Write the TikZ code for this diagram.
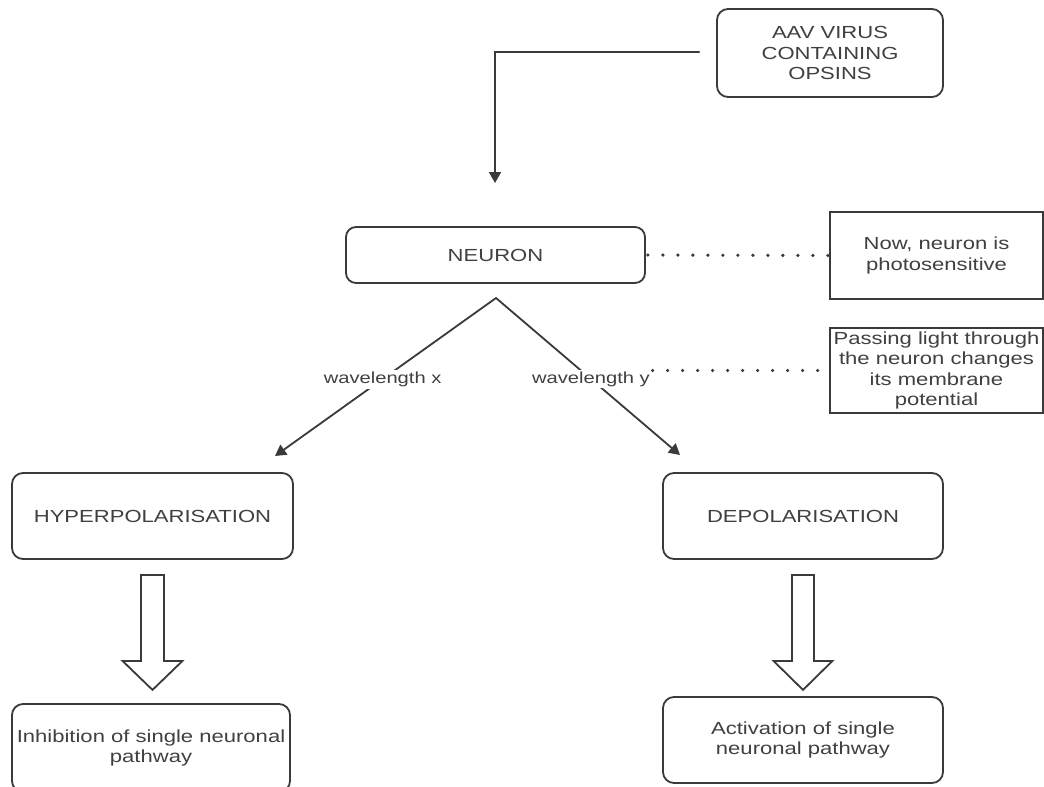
\documentclass[tikz,border=0pt]{standalone}
\usepackage{fontspec}
\setmainfont{Liberation Sans}[FakeStretch=1.26]
\usetikzlibrary{arrows.meta,calc}
\definecolor{ln}{HTML}{3A3A3A}
\definecolor{tx}{HTML}{404040}
\begin{document}
\begin{tikzpicture}[x=1pt,y=-1pt,
 box/.style={draw=ln, line width=1.8pt, rounded corners=11pt, text=tx, align=center, inner sep=0pt, font=\fontsize{17.5}{20.5}\selectfont},
 sqbox/.style={box, rounded corners=0pt},
 conn/.style={draw=ln, line width=1.8pt, line cap=round},
 arr/.style={conn, -{Triangle[width=12pt,length=11pt]}},
 dots/.style={draw=ln, line width=3.6pt, line cap=round, dash pattern=on 0pt off 15pt},
 lbl/.style={fill=white, text=tx, inner sep=2pt, font=\fontsize{16}{19}\selectfont},
 hollow/.style={draw=ln, line width=1.8pt, fill=white, line join=miter}]
\useasboundingbox (0,0) rectangle (1044,787);
\begin{scope}
\clip (0,0) rectangle (1044,787);
\fill[white] (0,0) rectangle (1044,787);
\node[box, minimum width=226pt, minimum height=88pt] (aav) at (830,53) {AAV VIRUS\\CONTAINING\\OPSINS};
\node[box, minimum width=299pt, minimum height=56pt, rounded corners=10pt] (neuron) at (495.5,255) {NEURON};
\node[sqbox, minimum width=213pt, minimum height=87pt] (now) at (936.5,255.5) {Now, neuron is\\photosensitive};
\node[sqbox, minimum width=213pt, minimum height=85pt] (passing) at (936.5,370.5) {Passing light through\\the neuron changes\\its membrane\\potential};
\node[box, minimum width=281pt, minimum height=86pt] (hyper) at (152.5,516) {HYPERPOLARISATION};
\node[box, minimum width=280pt, minimum height=86pt] (depol) at (803,516) {DEPOLARISATION};
\node[box, minimum width=278pt, minimum height=88pt] (inhib) at (151,748) {Inhibition of single neuronal\\pathway};
\node[box, minimum width=280pt, minimum height=86pt] (activ) at (803,740) {Activation of single\\neuronal pathway};

\coordinate (aavout) at ($(aav.west)+(-17,-1)$);
\coordinate (neuin) at (495,183);
\draw[arr] (aavout) -| (neuin);

\coordinate (apex) at (496,298);
\coordinate (hyin) at (275,456);
\coordinate (dein) at (680,455);
\draw[arr] (apex) -- node[lbl, pos=0.513] (wx) {wavelength x} (hyin);
\draw[arr] (apex) -- node[lbl, pos=0.516] (wy) {wavelength y} (dein);

\draw[dots] ($(neuron.east)+(2,0)$) -- (now.west);
\draw[dots] (wy.east |- passing.west) -- (passing.west);

\draw[hollow] ($(hyper.south)+(-11.5,15)$) -- ++(0,86) -- ++(-18.5,0) -- ++(30,29) -- ++(30,-29) -- ++(-18.5,0) -- ++(0,-86) -- cycle;
\draw[hollow] ($(depol.south)+(-11,15)$) -- ++(0,86) -- ++(-18.5,0) -- ++(29.5,29) -- ++(29.5,-29) -- ++(-18.5,0) -- ++(0,-86) -- cycle;
\end{scope}
\end{tikzpicture}
\end{document}
